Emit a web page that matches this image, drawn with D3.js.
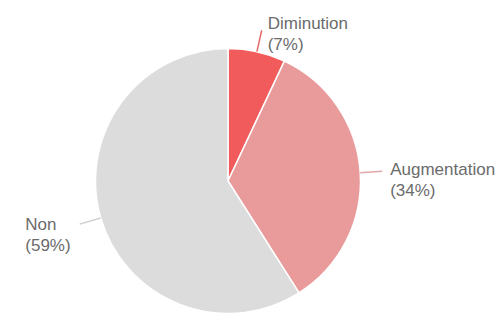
<!DOCTYPE html>
<html>
<head>
<meta charset="utf-8">
<script src="https://cdn.jsdelivr.net/npm/d3@7"></script>
<style>
  html, body { margin: 0; padding: 0; background: #fff; }
  svg { display: block; }
</style>
</head>
<body>
<svg id="chart" width="497" height="315"></svg>
<script>
// Data
const categories = ["Diminution", "Augmentation", "Non"];
const values = [7, 34, 59];
const percentLabels = ["(7%)", "(34%)", "(59%)"];
const colors = ["#f25b5b", "#e99b9b", "#dcdcdc"];
const leaderColors = ["#e86a6a", "#e3a6a6", "#cfcfcf"];

// Layout (not data)
const cx = 228, cy = 181, r = 132.5, leaderLen = 22;
const fontSize = 17, lineGap = 21;
// label placement relative to leader end: [dx, dy(baseline of line 1), side]
const labelPlace = [[6, -1, "right"], [8, 4, "right"], [-9, 6, "left"]];

const svg = d3.select("#chart");
const g = svg.append("g").attr("transform", `translate(${cx},${cy})`);

const pie = d3.pie().sort(null).value(d => d);
const arcs = pie(values);
const arc = d3.arc().innerRadius(0).outerRadius(r);

g.selectAll("path.slice")
  .data(arcs)
  .join("path")
  .attr("class", "slice")
  .attr("d", arc)
  .attr("fill", (d, i) => colors[i])
  .attr("stroke", "#fff")
  .attr("stroke-width", 1.5);

function pointAt(angle, radius) {
  return [Math.sin(angle) * radius, -Math.cos(angle) * radius];
}

arcs.forEach((a, i) => {
  const mid = (a.startAngle + a.endAngle) / 2;
  const p0 = pointAt(mid, r);
  const p1 = pointAt(mid, r + leaderLen);
  g.append("line")
    .attr("x1", p0[0]).attr("y1", p0[1])
    .attr("x2", p1[0]).attr("y2", p1[1])
    .attr("stroke", leaderColors[i])
    .attr("stroke-width", 1.5);
  const [dx, dy, side] = labelPlace[i];
  const t = g.append("text")
    .attr("y", p1[1] + dy)
    .attr("font-family", "Liberation Sans, Arial, sans-serif")
    .attr("font-size", fontSize)
    .attr("fill", "#6b6b6b");
  const s1 = t.append("tspan").text(categories[i]);
  const s2 = t.append("tspan").attr("dy", lineGap).text(percentLabels[i]);
  let x = p1[0] + dx;
  if (side === "left") {
    const w = Math.max(s1.node().getComputedTextLength(), s2.node().getComputedTextLength());
    x = x - w;
  }
  s1.attr("x", x);
  s2.attr("x", x);
});
</script>
</body>
</html>
